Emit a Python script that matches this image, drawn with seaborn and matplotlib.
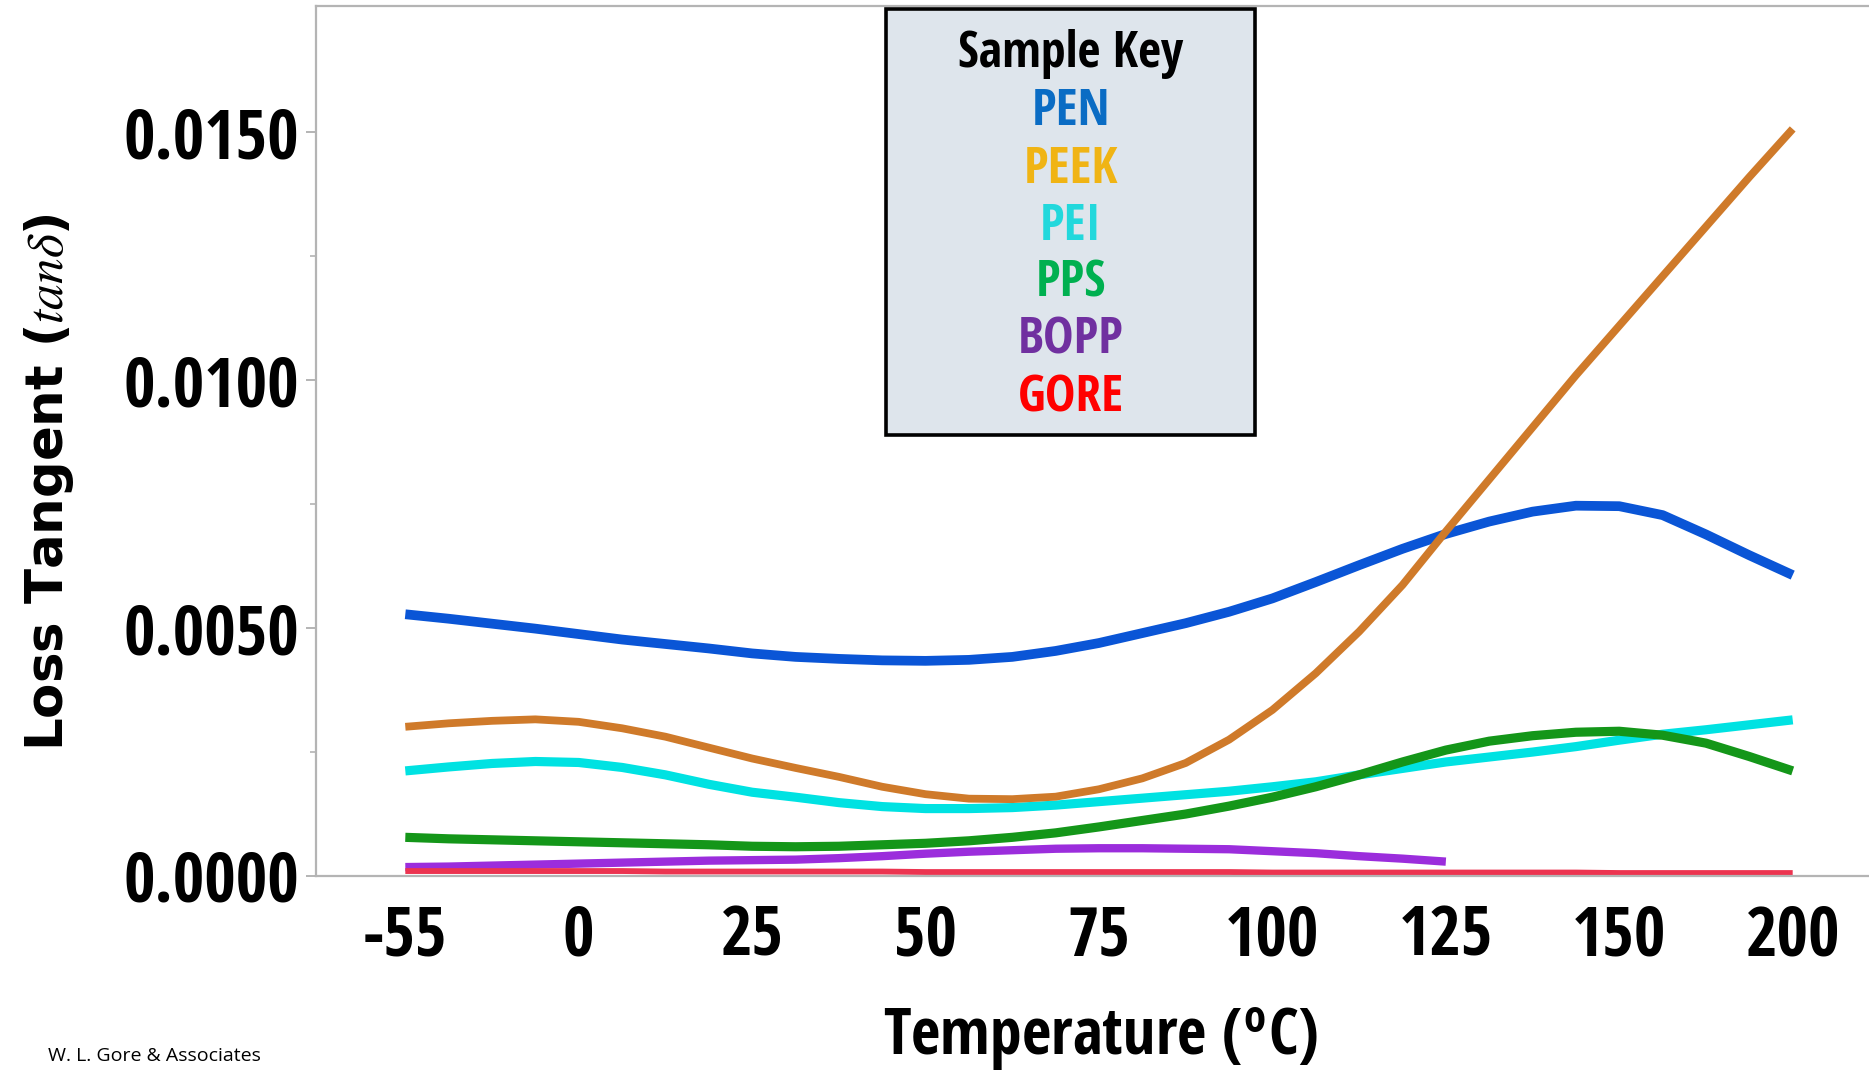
import matplotlib
matplotlib.use("Agg")
import matplotlib.pyplot as plt
from matplotlib import font_manager
from matplotlib.patches import Rectangle
import numpy as np
import pandas as pd
import seaborn as sns

# ---------------- data ----------------
tick_labels = ["-55", "0", "25", "50", "75", "100", "125", "150", "200"]
# positions along the (evenly spaced) temperature axis, in quarter steps
positions = [0, 0.25, 0.5, 0.75, 1, 1.25, 1.5, 1.75, 2, 2.25, 2.5, 2.75, 3, 3.25, 3.5, 3.75,
             4, 4.25, 4.5, 4.75, 5, 5.25, 5.5, 5.75, 6, 6.25, 6.5, 6.75, 7, 7.25, 7.5, 7.75, 8]
# loss tangent values, x 1e-3
pen = [5.28, 5.19, 5.09, 4.99, 4.88, 4.77, 4.68, 4.59, 4.49, 4.42, 4.38, 4.35, 4.34, 4.36, 4.42, 4.54,
       4.70, 4.90, 5.10, 5.33, 5.60, 5.93, 6.27, 6.60, 6.90, 7.15, 7.35, 7.47, 7.46, 7.28, 6.89, 6.47, 6.07]
peek = [3.01, 3.08, 3.13, 3.16, 3.11, 2.98, 2.81, 2.59, 2.37, 2.18, 2.00, 1.80, 1.65, 1.56, 1.55, 1.60,
        1.75, 1.97, 2.28, 2.75, 3.35, 4.09, 4.93, 5.87, 6.95, 8.00, 9.05, 10.1, 11.1, 12.1, 13.1, 14.1, 15.07]
pei = [2.12, 2.20, 2.27, 2.31, 2.29, 2.19, 2.04, 1.85, 1.69, 1.59, 1.48, 1.40, 1.36, 1.36, 1.38, 1.43,
       1.50, 1.57, 1.64, 1.71, 1.80, 1.90, 2.04, 2.17, 2.30, 2.40, 2.50, 2.61, 2.74, 2.86, 2.95, 3.05, 3.15]
pps = [0.78, 0.75, 0.73, 0.71, 0.69, 0.67, 0.65, 0.63, 0.60, 0.59, 0.60, 0.63, 0.66, 0.71, 0.78, 0.87,
       0.99, 1.12, 1.25, 1.41, 1.59, 1.80, 2.04, 2.30, 2.54, 2.72, 2.83, 2.90, 2.92, 2.84, 2.68, 2.41, 2.12]
bopp = [0.18, 0.19, 0.21, 0.23, 0.25, 0.27, 0.29, 0.31, 0.32, 0.33, 0.36, 0.40, 0.45, 0.49, 0.52, 0.55,
        0.56, 0.56, 0.55, 0.54, 0.50, 0.46, 0.40, 0.35, 0.29]
gore = [0.10, 0.10, 0.10, 0.10, 0.10, 0.10, 0.09, 0.09, 0.09, 0.09, 0.09, 0.09, 0.08, 0.08, 0.08, 0.08,
        0.08, 0.08, 0.08, 0.08, 0.07, 0.07, 0.07, 0.07, 0.07, 0.07, 0.07, 0.07, 0.06, 0.06, 0.06, 0.06, 0.06]

samples = ["PEN", "PEEK", "PEI", "PPS", "BOPP", "GORE"]
line_colors = {"PEN": "#0a55d6", "PEEK": "#cf7a2a", "PEI": "#00e2e2",
               "PPS": "#149619", "BOPP": "#9b2ddc", "GORE": "#ec3450"}
key_colors = {"PEN": "#0a6cc4", "PEEK": "#f0b414", "PEI": "#22d8dc",
              "PPS": "#00b050", "BOPP": "#7030a0", "GORE": "#ff0000"}
line_widths = {"PEN": 7.0, "PEEK": 5.6, "PEI": 6.6, "PPS": 6.6, "BOPP": 6.0, "GORE": 4.2}

series = {"PEN": pen, "PEEK": peek, "PEI": pei, "PPS": pps, "BOPP": bopp, "GORE": gore}
rows = []
for name in samples:
    vals = series[name]
    for p, v in zip(positions[:len(vals)], vals):
        rows.append({"pos": p, "loss": v * 1e-3, "sample": name})
df = pd.DataFrame(rows)

# ---------------- style ----------------
sns.set_theme(style="white")
names = {f.name for f in font_manager.fontManager.ttflist}
narrow = None
for cand in ["Liberation Sans Narrow", "Open Sans Condensed", "Roboto Condensed"]:
    if cand in names:
        narrow = cand
        break
if narrow is None:
    narrow_kw = dict(family="DejaVu Sans", stretch="condensed")
else:
    narrow_kw = dict(family=narrow)
plt.rcParams["font.family"] = ["DejaVu Sans"]
plt.rcParams["mathtext.fontset"] = "stix"

fig = plt.figure(figsize=(18.69, 10.71), dpi=100)
ax = fig.add_axes([316 / 1869, 1 - 876 / 1071, 1 - 316 / 1869, 870 / 1071])

draw_order = ["PEN", "PEI", "PPS", "PEEK", "BOPP", "GORE"]
for name in draw_order:
    sub = df[df["sample"] == name]
    sns.lineplot(data=sub, x="pos", y="loss", color=line_colors[name],
                 linewidth=line_widths[name], ax=ax, legend=False,
                 solid_capstyle="butt", solid_joinstyle="round")

ax.set_xlim(-0.515, 8.44)
ax.set_ylim(0, 0.01755)
ax.set_xticks(range(len(tick_labels)))
ax.set_xticklabels(tick_labels)
ax.set_yticks([0.0, 0.005, 0.010, 0.015])
ax.set_yticklabels(["0.0000", "0.0050", "0.0100", "0.0150"])
ax.set_yticks([0.0025, 0.0075, 0.0125], minor=True)

for sp in ["left", "bottom", "top"]:
    ax.spines[sp].set_color("#b4b4b4")
    ax.spines[sp].set_linewidth(1.6)
ax.spines["right"].set_visible(False)

ax.tick_params(axis="x", length=0, pad=20)
ax.tick_params(axis="y", which="major", length=7, width=1.4, color="#b4b4b4", pad=5, left=True)
ax.tick_params(axis="y", which="minor", length=4, width=1.2, color="#b4b4b4", left=True)
for lab in ax.get_xticklabels() + ax.get_yticklabels():
    lab.set_fontproperties(font_manager.FontProperties(size=49, weight="bold", **narrow_kw))
    lab.set_color("black")

ax.set_xlabel(r"Temperature ($^{\mathregular{o}}$C)", fontsize=46, color="black",
              **narrow_kw)
ax.xaxis.set_label_coords(0.505, -0.188)
ax.xaxis.label.set_va("center")

ax.set_ylabel(r"Loss Tangent ($tan\delta$)", fontsize=37, fontweight="bold", color="black")
ax.yaxis.set_label_coords(-0.172, 0.453)
ax.yaxis.label.set_va("center")

# ---------------- sample key box ----------------
bx0, by0, bx1, by1 = 886, 9, 1255, 435
fig.patches.append(Rectangle((bx0 / 1869, 1 - by1 / 1071), (bx1 - bx0) / 1869,
                             (by1 - by0) / 1071, transform=fig.transFigure,
                             facecolor="#dee5ec", edgecolor="black", linewidth=2.6,
                             zorder=5))
cx = 1071 / 1869
fig.text(cx, 1 - 54 / 1071, "Sample Key", ha="center", va="center", fontsize=36,
         color="black", zorder=6, **narrow_kw)
key_y = [112, 170, 227, 284, 341, 398]
for name, yy in zip(samples, key_y):
    fig.text(cx, 1 - yy / 1071, name, ha="center", va="center", fontsize=37,
             color=key_colors[name], zorder=6, **narrow_kw)

fig.text(48 / 1869, 1 - 1056 / 1071, "W. L. Gore & Associates", ha="left", va="center",
         fontsize=14, color="black", family="Open Sans")

fig.savefig("out.png", dpi=100, facecolor="white")
